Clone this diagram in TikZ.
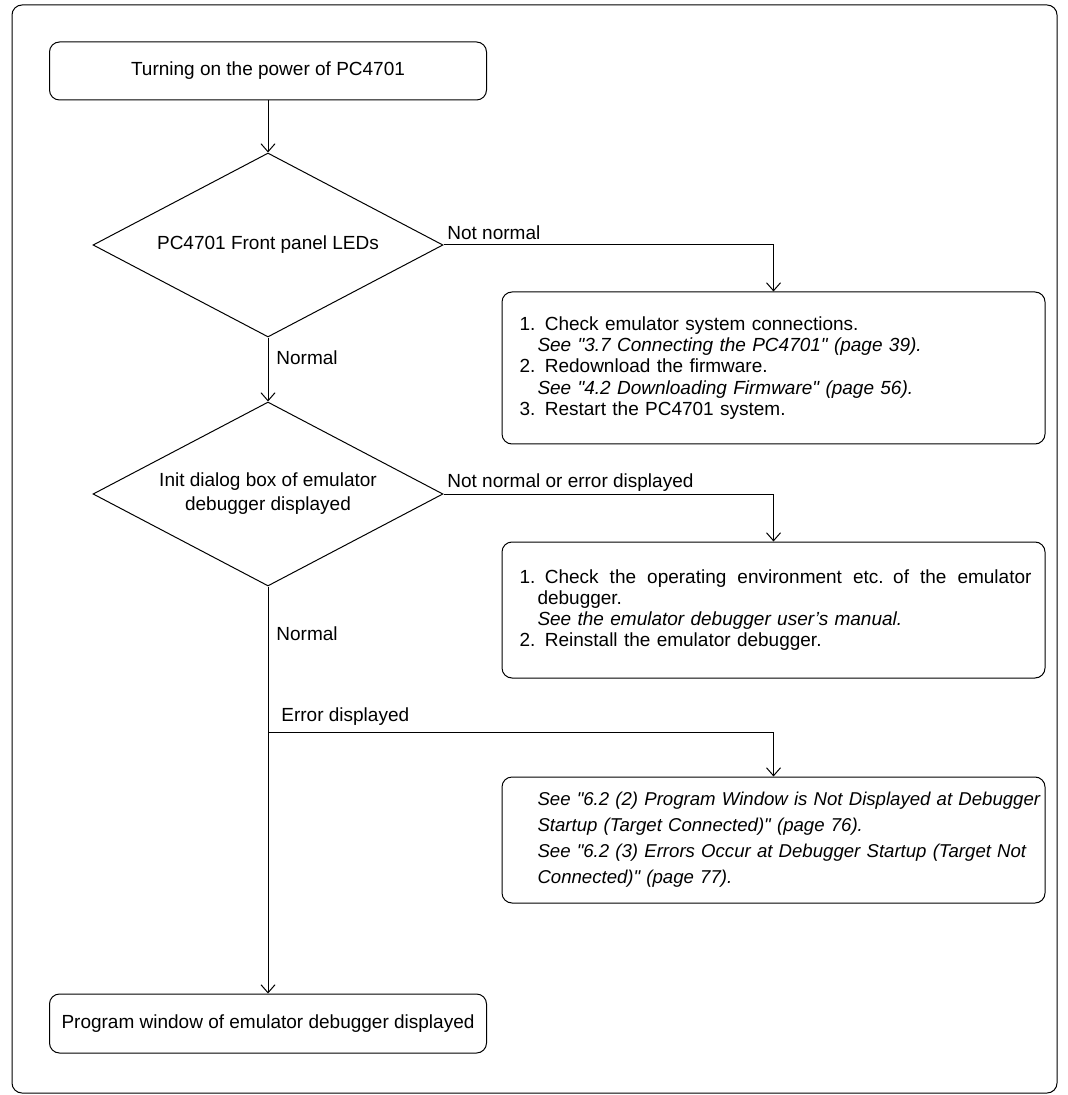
\documentclass[tikz,border=0pt]{standalone}
\usepackage{fontspec}
\setmainfont{Liberation Sans}
\usetikzlibrary{shapes.geometric, arrows.meta}

\begin{document}
\begin{tikzpicture}[
  x=0.5pt, y=-0.5pt,
  every node/.style={font=\fontsize{9.5}{10.6}\selectfont},
  term/.style={
    rectangle, draw, rounded corners=5pt, line width=0.5pt,
    minimum width=218.5pt, minimum height=29pt,
    align=center, inner sep=2pt
  },
  decide/.style={
    diamond, aspect=1.9, draw, line width=0.5pt,
    minimum width=175pt, minimum height=92pt,
    align=center, inner sep=0pt,
    font=\fontsize{9.5}{12}\selectfont
  },
  note/.style={
    rectangle, draw, rounded corners=5pt, line width=0.5pt,
    text width=270pt, inner xsep=0.75pt, align=left
  },
  lbl/.style={anchor=west, inner sep=0pt},
  flow/.style={
    line width=0.5pt, -{Straight Barb[length=4pt, width=7pt]}
  }
]

%% indents inside the note boxes
\def\numind{8pt}
\def\subind{17pt}
\def\q{\textquotedbl}

\useasboundingbox (0,0) rectangle (1068,1095);

%% === OUTER FRAME ===
\draw[line width=0.5pt, rounded corners=5pt] (12,5) rectangle (1057,1093);

%% === MAIN COLUMN ===
\node[term] (start) at (268,71) {Turning on the power of PC4701};
\node[decide] (leds) at (268,245) {PC4701 Front panel LEDs};
\node[decide] (init) at (268,494) {Init dialog box of emulator\\debugger displayed};
\node[term, minimum height=29.5pt] (done) at (268,1023.5)
  {Program window of emulator debugger displayed};

%% === NOTE BOXES ===
\node[note, minimum height=76pt] (fixled) at (773.5,368) {%
  \hspace*{\numind}1. Check emulator system connections.\\
  \hspace*{\subind}\textit{See \q3.7 Connecting the PC4701\q\ (page 39).}\\
  \hspace*{\numind}2. Redownload the firmware.\\
  \hspace*{\subind}\textit{See \q4.2 Downloading Firmware\q\ (page 56).}\\
  \hspace*{\numind}3. Restart the PC4701 system.};

\node[note, minimum height=68pt] (fixinit) at (773.5,610) {%
  \hspace*{\numind}\hbox to 256pt{\spaceskip=0.278em plus 1fil\relax
    1. Check the operating environment etc. of the emulator}\\
  \hspace*{\subind}debugger.\\
  \hspace*{\subind}\textit{See the emulator debugger user's manual.}\\
  \hspace*{\numind}2. Reinstall the emulator debugger.};

\node[note, minimum height=63pt, font=\fontsize{9.3}{13}\selectfont] (fixerr) at (773.5,840) {%
  \hspace*{\subind}\mbox{\textit{See \q6.2 (2) Program Window is Not Displayed at Debugger}}\\
  \hspace*{\subind}\mbox{\textit{Startup (Target Connected)\q\ (page 76).}}\\
  \hspace*{\subind}\mbox{\textit{See \q6.2 (3) Errors Occur at Debugger Startup (Target Not}}\\
  \hspace*{\subind}\mbox{\textit{Connected)\q\ (page 77).}}};

%% === BRANCH LABELS ===
\node[lbl] (nn1) at (447,233) {Not normal};
\node[lbl] (ok1) at (276,358) {Normal};
\node[lbl] (nn2) at (447,483) {Not normal or error displayed};
\node[lbl] (ok2) at (276,634) {Normal};
\node[lbl] (err) at (281,717) {Error displayed};

%% === CONNECTORS ===
\draw[flow] (start) -- (leds);
\draw[flow] (leds) -- (init);
\draw[flow] (leds.east) -| (fixled.north);
\draw[flow] (init.east) -| (fixinit.north);
\draw[flow] (init) -- (done);

\coordinate (split) at (268,732);
\draw[flow] (split) -| (fixerr.north);

\end{tikzpicture}
\end{document}
